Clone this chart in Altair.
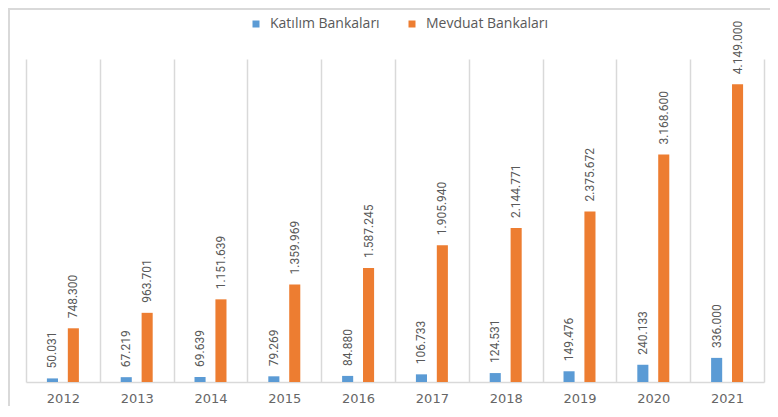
import altair as alt
import pandas as pd

years = ["2012", "2013", "2014", "2015", "2016", "2017", "2018", "2019", "2020", "2021"]
katilim = [50031, 67219, 69639, 79269, 84880, 106733, 124531, 149476, 240133, 336000]
mevduat = [748300, 963701, 1151639, 1359969, 1587245, 1905940, 2144771, 2375672, 3168600, 4149000]
series = ["Katılım Bankaları", "Mevduat Bankaları"]
colors = ["#5B9BD5", "#ED7D31"]

rows = []
for i, yr in enumerate(years):
    rows.append({"year": yr, "series": series[0], "value": katilim[i]})
    rows.append({"year": yr, "series": series[1], "value": mevduat[i]})
df = pd.DataFrame(rows)

W, H = 738, 323

x = alt.X(
    "year:N", sort=years, title=None,
    scale=alt.Scale(paddingInner=0, paddingOuter=0),
    axis=alt.Axis(labelAngle=0, ticks=False, tickBand="extent", grid=True,
                  gridColor="#d9d9d9", gridWidth=1.5, domainColor="#d9d9d9",
                  domainWidth=1.5, labelColor="#666666", labelFont="DejaVu Sans",
                  labelFontSize=13, labelPadding=10),
)
xoff = alt.XOffset("series:N", sort=series,
                   scale=alt.Scale(paddingInner=0.47, paddingOuter=1))
y = alt.Y("value:Q", scale=alt.Scale(domain=[0, 4500000]), axis=None)
color = alt.Color(
    "series:N", sort=series,
    scale=alt.Scale(domain=series, range=colors),
    legend=alt.Legend(title=None, orient="none", legendX=223, legendY=-42,
                      direction="horizontal", symbolType="square", symbolSize=49,
                      symbolStrokeWidth=0, labelFontSize=14, labelColor="#595959",
                      labelFont="Open Sans", columnPadding=25, labelOffset=7),
)

frame = alt.Chart(alt.Data(values=[{}])).mark_rect(
    filled=False, stroke="#d9d9d9", strokeWidth=2
).encode(x=alt.value(-17), x2=alt.value(770), y=alt.value(-50), y2=alt.value(420))

bars = alt.Chart(df).mark_bar().encode(x=x, xOffset=xoff, y=y, color=color)

labels = alt.Chart(df).transform_calculate(
    label="replace(format(datum.value, ','), regexp(',', 'g'), '.')"
).mark_text(
    angle=270, align="left", baseline="middle", dx=10,
    font="Roboto", fontSize=12, color="#595959"
).encode(x=x, xOffset=xoff, y=y, text="label:N")

chart = alt.layer(frame, bars, labels).properties(
    width=W, height=H,
    autosize=alt.AutoSizeParams(type="none"),
    padding={"left": 18, "top": 51, "right": 6, "bottom": 24},
).configure_view(stroke=None)

chart.save("out.html", embed_options={"renderer": "svg", "actions": False})
